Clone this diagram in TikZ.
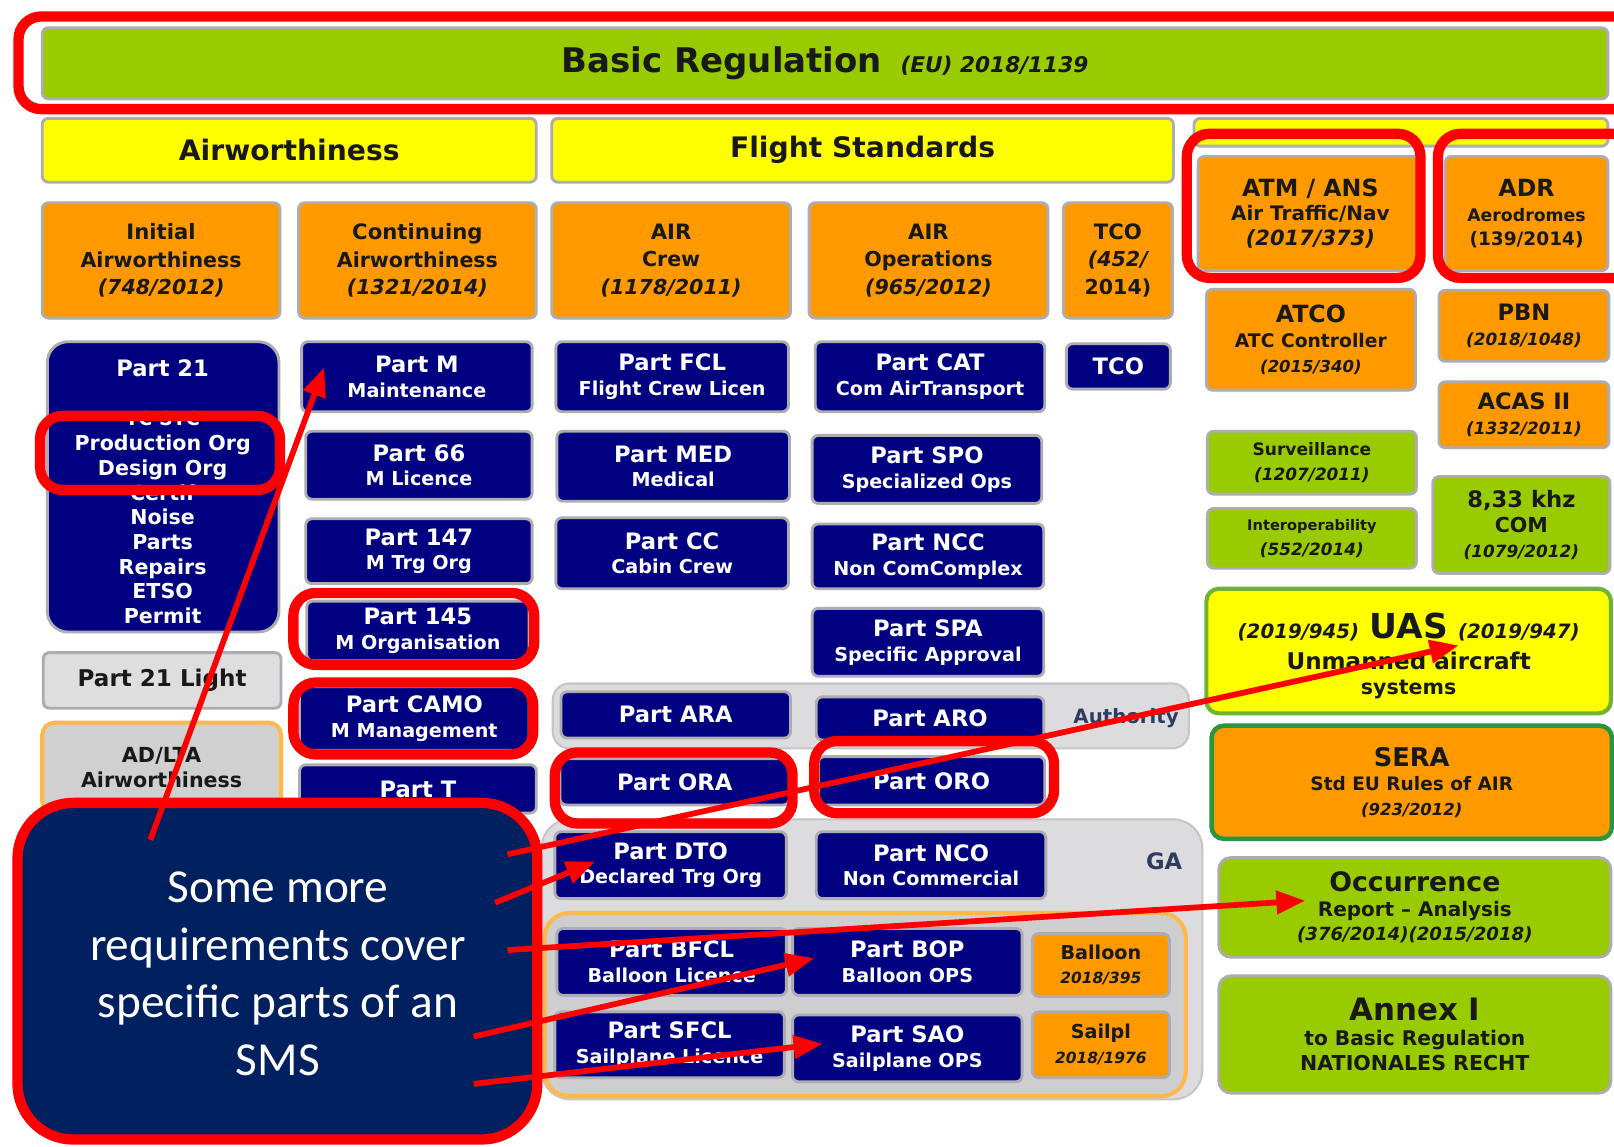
\documentclass[tikz,border=0pt]{standalone}
\usepackage{fontspec}
\setmainfont{DejaVu Sans}
\newfontfamily\calfont{Carlito}
\usetikzlibrary{fit,arrows.meta}

\definecolor{navyc}{RGB}{0,0,128}
\definecolor{orangec}{RGB}{255,153,0}
\definecolor{greenc}{RGB}{153,204,0}
\definecolor{yellowc}{RGB}{255,255,0}
\definecolor{calloutc}{RGB}{0,32,96}
\definecolor{haloc}{RGB}{172,172,178}
\definecolor{ink}{RGB}{25,25,25}
\definecolor{slate}{RGB}{45,60,95}
\definecolor{bandc}{RGB}{220,220,222}
\definecolor{palegray}{RGB}{222,222,222}
\definecolor{redc}{RGB}{255,0,0}
\definecolor{uasedge}{RGB}{110,180,50}
\definecolor{seraedge}{RGB}{40,150,60}

\newcommand\fs[2]{\fontsize{#1}{#2}\selectfont}
\newcommand\ttl[2]{\fs{11}{13}#1\\\fs{9.3}{12.5}#2}
% a tile spanning two corners, with its text set in a node at the tile centre
\newcommand\tilebox[7]{%
  \node[#1, fit={(#3,#4)(#5,#6)}] (#2) {};
  \node[#1, draw=none, fill=none] (#2t) at (#2.center) {#7};}

\tikzset{
  tile/.style={rounded corners=3pt, draw=haloc, line width=1.4pt, inner sep=0pt,
    align=center, font=\bfseries},
  navybox/.style={tile, fill=navyc, text=white},
  orangebox/.style={tile, fill=orangec, text=ink},
  greenbox/.style={tile, fill=greenc, text=ink},
  yellowbox/.style={tile, fill=yellowc, text=ink},
  graybox/.style={tile, fill=palegray, text=ink},
  band/.style={rounded corners=8pt, fill=bandc, draw=haloc!70, line width=1pt, inner sep=0pt},
  redframe/.style={draw=redc, line width=5pt, rounded corners=11pt, inner sep=0pt},
  pointer/.style={draw=redc, line width=2.8pt, -{Triangle[length=14pt,width=11pt]}},
  navytext/.style={text=white, align=center, font=\bfseries, inner sep=0pt},
}

\begin{document}
\begin{tikzpicture}[x=0.5pt,y=-0.5pt]
\useasboundingbox (0,0) rectangle (1568,1114);
\clip (0,0) rectangle (1568,1114);
\fill[white] (0,0) rectangle (1568,1114);

% ---------- background bands ----------
\node[band, fit={(537,664)(1155,727)}] (authband) {};
\node[band, rounded corners=14pt, fit={(526,796)(1168,1068)}] (gaband) {};
\node[band, rounded corners=12pt, draw=orangec!70, line width=2pt, fill=bandc!85!gray,
      fit={(529,887)(1152,1065)}] (sportband) {};
\node[text=slate, font={\bfseries\fs{9.6}{12}}] (authlbl) at (1094,698) {Authority};
\node[text=slate, font={\bfseries\fs{11}{13}}] (galbl) at (1131,837) {GA};

% ---------- header rows ----------
\tilebox{greenbox}{basic}{41}{27}{1562}{96}
  {{\fs{16.5}{20}Basic Regulation}\hspace{9pt}{\fs{10.5}{13}\itshape (EU) 2018/1139}}
\tilebox{yellowbox}{airw}{41}{115}{521}{177}{\fs{13.7}{16}Airworthiness}
\tilebox{yellowbox}{flst}{536}{115}{1140}{177}{\fs{13.7}{16}Flight Standards}
\node[yellowbox, fit={(1160,115)(1562,142)}] (atmhead) {};

% ---------- regulation row ----------
\tilebox{orangebox}{initaw}{41}{197}{272}{309}
  {\fs{10.3}{12}Initial\\[1.5pt]Airworthiness\\[1.5pt]\itshape (748/2012)}
\tilebox{orangebox}{contaw}{290}{197}{521}{309}
  {\fs{10.3}{12}Continuing\\[1.5pt]Airworthiness\\[1.5pt]\itshape (1321/2014)}
\tilebox{orangebox}{aircrew}{536}{197}{768}{309}
  {\fs{10.3}{12}AIR\\[1.5pt]Crew\\[1.5pt]\itshape (1178/2011)}
\tilebox{orangebox}{airops}{786}{197}{1018}{309}
  {\fs{10.3}{12}AIR\\[1.5pt]Operations\\[1.5pt]\itshape (965/2012)}
\tilebox{orangebox}{tcoreg}{1033}{197}{1139}{309}
  {\fs{10.3}{12}TCO\\[1.5pt]\itshape (452/\\[1.5pt]2014)}

% ---------- right column ----------
\tilebox{orangebox}{atm}{1164}{152}{1382}{263}
  {\fs{11.5}{12}ATM / ANS\\\fs{9.7}{12.5}Air Traffic/Nav\\\fs{10.2}{12}\itshape (2017/373)}
\tilebox{orangebox}{adr}{1404}{152}{1562}{263}
  {\fs{11.5}{12}ADR\\\fs{8.4}{11.5}Aerodromes\\\fs{9}{11}(139/2014)}
\tilebox{orangebox}{atco}{1172}{281}{1375}{379}
  {\fs{11.5}{12}ATCO\\\fs{9.1}{12}ATC Controller\\\fs{8}{10.5}\itshape (2015/340)}
\tilebox{orangebox}{pbn}{1398}{282}{1563}{351}
  {\fs{11}{12}PBN\\\fs{8.2}{11}\itshape (2018/1048)}
\tilebox{orangebox}{acas}{1398}{371}{1563}{435}
  {\fs{11}{12}ACAS II\\\fs{8.2}{11}\itshape (1332/2011)}
\tilebox{greenbox}{surv}{1173}{419}{1376}{480}
  {\fs{8.3}{10}Surveillance\\\fs{8.2}{10.5}\itshape (1207/2011)}
\tilebox{greenbox}{interop}{1173}{494}{1376}{552}
  {\fs{7.1}{9}Interoperability\\\fs{8.2}{10}\itshape (552/2014)}
\tilebox{greenbox}{com}{1392}{463}{1564}{557}
  {\fs{11}{13.5}8,33 khz\\COM\\\fs{8.2}{12}\itshape (1079/2012)}
\node[yellowbox, draw=uasedge, line width=2pt, rounded corners=6pt, fit={(1172,572)(1565,693)}] (uas) {};
\node[yellowbox, draw=none, fill=none] (uast) at ([yshift=-2.5pt]uas.center)
  {{\fs{9.6}{12}\itshape (2019/945)}\hspace{5pt}{\fs{16.7}{19}UAS}\hspace{5pt}{\fs{9.6}{12}\itshape (2019/947)}\\[3pt]
   \fs{11.2}{14}Unmanned aircraft\\systems};
\tilebox{orangebox, draw=seraedge, line width=2.2pt, rounded corners=6pt}{sera}{1177}{705}{1566}{815}
  {\fs{12.5}{14}SERA\\\fs{9}{13}Std EU Rules of AIR\\\fs{8}{10.5}\itshape (923/2012)}
\tilebox{greenbox, rounded corners=6pt}{occ}{1184}{833}{1565}{930}
  {\fs{13}{14}Occurrence\\\fs{9.7}{13.5}Report -- Analysis\\\fs{8.8}{11}\itshape (376/2014)(2015/2018)}
\tilebox{greenbox, rounded corners=6pt}{annex}{1184}{948}{1565}{1062}
  {\fs{15}{16}Annex I\\\fs{9.8}{15}to Basic Regulation\\\fs{10}{12.5}NATIONALES RECHT}

% ---------- airworthiness parts ----------
\node[navybox, rounded corners=10pt, fit={(46,332)(271,614)}] (p21) {};
\node[navytext] (p21title) at (158,358) {\fs{11}{13}Part 21};
\node[navytext] (p21list) at (158,503)
  {\fs{9.3}{11.4}TC STC\\Production Org\\Design Org\\Certif\\Noise\\Parts\\Repairs\\ETSO\\Permit};
\tilebox{graybox}{p21l}{42}{634}{273}{688}{\fs{11.2}{13}Part 21 Light}
\tilebox{graybox, draw=orangec!70, line width=2pt, rounded corners=6pt, fill=palegray!85!gray}{adlta}{41}{702}{273}{790}
  {\fs{10.1}{13.5}AD/LTA\\Airworthiness}

\tilebox{navybox}{pm}{293}{332}{517}{400}{\ttl{Part M}{Maintenance}}
\tilebox{navybox}{p66}{297}{419}{517}{485}{\ttl{Part 66}{M Licence}}
\tilebox{navybox}{p147}{297}{504}{517}{567}{\fs{11}{13}Part 147\\\fs{9.3}{11.5}M Trg Org}
\tilebox{navybox}{p145}{298}{584}{514}{642}{\fs{11}{13}Part 145\\\fs{9.3}{12}M Organisation}
\tilebox{navybox}{pcamo}{291}{667}{514}{729}{\fs{11}{13}Part CAMO\\\fs{9.3}{12}M Management}
\tilebox{navybox}{pt}{291}{743}{521}{790}{\fs{11}{13}Part T}

% ---------- flight standards parts ----------
\tilebox{navybox}{fcl}{540}{332}{766}{400}{\ttl{Part FCL}{Flight Crew Licen}}
\tilebox{navybox}{med}{541}{419}{767}{487}{\ttl{Part MED}{Medical}}
\tilebox{navybox}{cc}{540}{503}{766}{572}{\ttl{Part CC}{Cabin Crew}}
\tilebox{navybox}{cat}{792}{332}{1015}{400}{\ttl{Part CAT}{Com AirTransport}}
\tilebox{navybox}{spo}{789}{423}{1012}{489}{\ttl{Part SPO}{Specialized Ops}}
\tilebox{navybox}{ncc}{789}{509}{1014}{572}{\ttl{Part NCC}{Non ComComplex}}
\tilebox{navybox}{spa}{789}{591}{1014}{657}{\ttl{Part SPA}{Specific Approval}}
\tilebox{navybox}{tco}{1036}{334}{1137}{378}{\fs{11}{13}TCO}

\tilebox{navybox}{ara}{545}{672}{768}{717}{\fs{11}{13}Part ARA}
\tilebox{navybox}{aro}{793}{677}{1014}{719}{\fs{11}{13}Part ARO}
\tilebox{navybox}{ora}{544}{737}{767}{782}{\fs{11}{13}Part ORA}
\tilebox{navybox}{oro}{795}{735}{1015}{782}{\fs{11}{13}Part ORO}

\tilebox{navybox}{dto}{539}{808}{764}{873}{\fs{11}{13}Part DTO\\\fs{9.3}{12}Declared Trg Org}
\tilebox{navybox}{nco}{793}{808}{1016}{873}{\fs{11}{13}Part NCO\\\fs{9.3}{12}Non Commercial}
\tilebox{navybox}{bfcl}{541}{902}{764}{967}{\fs{11}{13}Part BFCL\\\fs{9.3}{12}Balloon Licence}
\tilebox{navybox}{bop}{770}{902}{993}{967}{\fs{11}{13}Part BOP\\\fs{9.3}{12}Balloon OPS}
\tilebox{orangebox}{balloon}{1003}{907}{1136}{968}{\fs{9.3}{11}Balloon\\\fs{7.5}{10}\itshape 2018/395}
\tilebox{navybox}{sfcl}{539}{983}{762}{1047}{\fs{11}{13}Part SFCL\\\fs{9.3}{12}Sailplane Licence}
\tilebox{navybox}{sao}{770}{986}{993}{1051}{\fs{11}{13}Part SAO\\\fs{9.3}{12}Sailplane OPS}
\tilebox{orangebox}{sailpl}{1003}{983}{1136}{1047}{\fs{9.3}{11}Sailpl\\\fs{7.5}{10}\itshape 2018/1976}

% ---------- callout ----------
\node[fill=calloutc, draw=redc, line width=5pt, rounded corners=27pt, inner sep=0pt,
      fit={(17,780)(522,1107)}] (callout) {};
\node[text=white, align=center, font=\calfont\fs{23}{28}] (calltext) at (270,946)
  {Some more\\requirements cover\\specific parts of an\\SMS};

% ---------- highlight frames ----------
\node[redframe, fit={(18,16)(1600,106)}] (hlbasic) {};
\node[redframe, fit={(1153,130)(1380,270)}] (hlatm) {};
\node[redframe, fit={(1397,130)(1600,270)}] (hladr) {};
\node[redframe, fit={(39,404)(272,476)}] (hlp21) {};
\node[redframe, fit={(285,576)(519,646)}] (hl145) {};
\node[redframe, fit={(285,663)(518,733)}] (hlcamo) {};
\node[redframe, fit={(539,731)(770,800)}] (hlora) {};
\node[redframe, fit={(791,720)(1024,790)}] (hloro) {};

% ---------- pointers ----------
\coordinate (s1) at (146,816);  \coordinate (e1) at (315,357);
\coordinate (s2) at (493,830);  \coordinate (e2) at (1417,627);
\coordinate (s3) at (481,877);  \coordinate (e3) at (578,837);
\coordinate (s4) at (493,923);  \coordinate (e4) at (1268,875);
\coordinate (s5) at (460,1007); \coordinate (e5) at (791,931);
\coordinate (s6) at (460,1053); \coordinate (e6) at (799,1014);
\draw[pointer] (s1) -- (e1);
\draw[pointer] (s2) -- (e2);
\draw[pointer] (s3) -- (e3);
\draw[pointer] (s4) -- (e4);
\draw[pointer] (s5) -- (e5);
\draw[pointer] (s6) -- (e6);
\end{tikzpicture}
\end{document}
